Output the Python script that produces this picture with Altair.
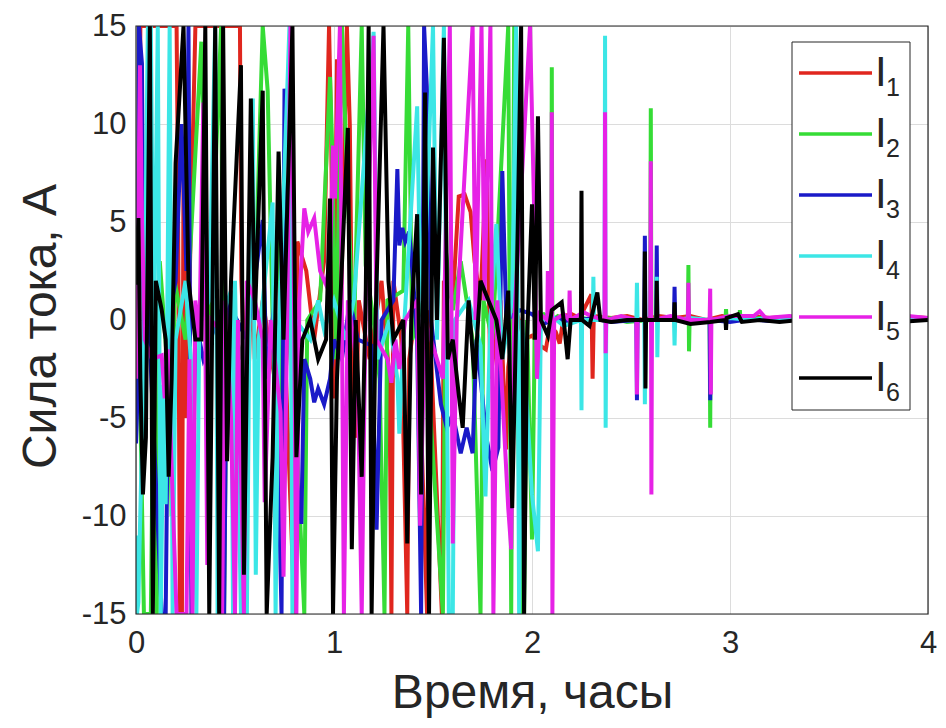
import altair as alt
import pandas as pd

NAMES = ["I1", "I2", "I3", "I4", "I5", "I6"]
SUBS = ["1", "2", "3", "4", "5", "6"]
COLORS = ["#e0261e", "#36dc36", "#1a1ac8", "#3ce6e6", "#e622e6", "#000000"]
X_TICKS = [0, 1, 2, 3, 4]
Y_TICKS = [-15, -10, -5, 0, 5, 10, 15]
X_TITLE = "Время, часы"
Y_TITLE = "Сила тока, А"

# (time in hours, current in A); values at the +/-15 limit are saturated
I1 = [(0.000, 1.0), (0.012, -4.0), (0.022, 15), (0.205, 15), (0.212, 6.9), (0.222, -15), (0.232, -15),
      (0.240, 8.0), (0.255, -5.0), (0.300, 15), (0.525, 15), (0.532, 2.0), (0.545, -1.0), (0.560, -6.0),
      (0.585, 3.0), (0.600, -2.0), (0.640, 1.0), (0.700, -3.0), (0.740, 2.0), (0.800, -15), (0.815, 4.0),
      (0.860, 2.5), (0.900, -1.0), (0.950, 3.0), (0.975, 15), (0.985, 10.0), (1.000, -4.0), (1.015, 13.3),
      (1.030, -2.0), (1.065, 15), (1.080, 9.9), (1.095, -5.0), (1.110, -6.0), (1.125, 1.0), (1.180, -2.0),
      (1.240, 2.0), (1.280, -3.0), (1.290, -15), (1.300, 2.0), (1.340, -1.0), (1.370, -15), (1.380, -2.0),
      (1.420, 1.0), (1.470, -15), (1.480, 0.5), (1.545, -15), (1.555, 2.0), (1.600, 1.0), (1.630, 6.3),
      (1.660, 6.4), (1.690, 5.5), (1.710, 3.0), (1.740, 1.0), (1.770, 8.2), (1.790, -3.0), (1.840, 1.0),
      (1.870, -6.6), (1.880, -2.4), (1.920, 0.5), (1.960, -1.0), (2.000, -0.8), (2.040, -1.3), (2.070, -1.5),
      (2.090, -0.3), (2.120, -0.6), (2.140, -1.2), (2.160, 0.2), (2.200, 0.3), (2.240, 0.1), (2.300, 1.3),
      (2.306, -3.0), (2.312, 0.2), (2.400, 0.1), (2.480, 0.2), (2.560, 0.0), (2.640, 0.2), (2.720, 0.1),
      (2.800, 0.2), (2.880, 0.0), (2.960, 0.2), (3.040, 0.1), (3.120, 0.2), (3.200, 0.1), (3.280, 0.15),
      (3.360, 0.05), (3.440, 0.15), (3.520, 0.1), (3.600, 0.2), (3.680, 0.05), (3.760, 0.15), (3.840, 0.1),
      (3.920, 0.15), (4.000, 0.1)]

I2 = [(0.000, 0.0), (0.010, -2.5), (0.020, -3.5), (0.040, -15), (0.075, -15), (0.090, -1.0), (0.105, -15),
      (0.120, 3.0), (0.170, -4.0), (0.180, -10.0), (0.195, 2.0), (0.250, -1.0), (0.330, 14.2), (0.345, 8.0),
      (0.360, -3.0), (0.430, 15), (0.445, -15), (0.460, 1.0), (0.520, -2.0), (0.600, 1.0), (0.640, 15),
      (0.665, 11.7), (0.690, 0.0), (0.720, 5.5), (0.740, -5.0), (0.780, 1.0), (0.850, -15), (0.865, 0.0),
      (0.930, 1.0), (0.980, 12.4), (0.990, 9.1), (1.010, -2.0), (1.040, 15), (1.070, 6.2), (1.100, -1.0),
      (1.140, 15), (1.160, 2.8), (1.200, 0.0), (1.230, -3.0), (1.255, -15), (1.270, 1.0), (1.350, 1.5),
      (1.375, 15), (1.395, -1.0), (1.450, 1.0), (1.550, -15), (1.565, 3.5), (1.600, 0.5), (1.640, 3.0),
      (1.700, -1.0), (1.740, -15), (1.755, 1.0), (1.800, -1.0), (1.880, 15), (1.895, -15), (1.910, 15),
      (1.925, -2.0), (1.945, -15), (1.960, -15), (1.975, 0.0), (2.000, -11.2), (2.015, 0.0), (2.060, 0.3),
      (2.097, 0.0), (2.100, 12.9), (2.103, 0.0), (2.130, 0.2), (2.180, -0.1), (2.250, 0.1), (2.320, 0.0),
      (2.400, 0.1), (2.480, -0.1), (2.597, 0.0), (2.600, 10.8), (2.603, -0.5), (2.606, 0.0), (2.680, 0.1),
      (2.787, 0.0), (2.790, 2.8), (2.793, -1.6), (2.796, 0.0), (2.897, 0.0), (2.900, -5.5), (2.903, 0.0),
      (2.977, 0.0), (2.980, 0.55), (2.983, 0.0), (3.047, 0.0), (3.050, 0.5), (3.053, 0.0), (3.150, 0.1),
      (3.250, 0.0), (3.350, 0.1), (3.450, 0.0), (3.550, 0.1), (3.650, 0.0), (3.750, 0.1), (3.850, 0.0),
      (4.000, 0.1)]

I3 = [(0.000, -6.3), (0.008, -3.8), (0.015, 15), (0.030, 13.1), (0.040, -2.0), (0.060, 1.0), (0.130, -15),
      (0.150, -15), (0.165, 0.0), (0.200, 2.0), (0.230, 10.0), (0.255, 2.5), (0.265, 15), (0.280, -15),
      (0.300, 0.0), (0.340, -2.0), (0.430, 0.5), (0.445, -15), (0.460, 1.0), (0.560, -1.0), (0.640, 5.1),
      (0.660, -3.0), (0.700, 1.0), (0.735, -15), (0.750, 11.8), (0.775, 8.3), (0.790, -1.0), (0.810, -8.0),
      (0.835, -10.4), (0.850, -2.0), (0.880, -3.0), (0.900, -4.2), (0.920, -3.5), (0.950, -4.3), (0.980, -3.0),
      (1.000, -1.0), (1.040, -2.0), (1.080, 1.0), (1.120, -1.0), (1.190, -1.3), (1.215, -10.7), (1.240, 0.0),
      (1.300, 1.0), (1.320, 7.7), (1.330, 3.8), (1.345, 4.7), (1.360, 4.0), (1.380, 4.5), (1.400, 2.0),
      (1.420, -1.0), (1.440, -15), (1.455, 15), (1.470, 11.6), (1.490, 0.0), (1.540, -4.3), (1.570, -5.5),
      (1.600, -4.8), (1.640, -6.8), (1.670, -5.5), (1.700, -6.8), (1.720, -1.0), (1.770, -6.0), (1.800, -7.7),
      (1.830, -6.5), (1.850, 7.6), (1.870, 0.0), (1.940, 0.5), (2.000, 0.3), (2.060, -0.2), (2.120, 0.1),
      (2.200, -0.1), (2.300, 0.1), (2.400, -0.1), (2.527, 0.0), (2.530, -4.1), (2.533, 0.0), (2.567, 0.0),
      (2.570, 4.3), (2.573, 0.0), (2.627, 0.0), (2.630, 3.8), (2.633, 0.0), (2.717, 0.0), (2.720, 1.7),
      (2.723, 0.0), (2.800, -0.1), (2.897, 0.0), (2.900, -4.1), (2.903, 0.0), (3.000, -0.1), (3.100, 0.05),
      (3.200, -0.05), (3.300, 0.05), (3.400, -0.05), (3.500, 0.05), (3.600, -0.05), (3.700, 0.05),
      (3.800, -0.05), (3.900, 0.05), (4.000, 0.0)]

I4 = [(0.000, -11.0), (0.005, -15), (0.012, -14.4), (0.020, -10.6), (0.040, -2.0), (0.060, 15), (0.075, 15),
      (0.090, -2.0), (0.110, 15), (0.125, -15), (0.140, -3.3), (0.150, -9.4), (0.170, 15), (0.185, -15),
      (0.200, -1.0), (0.250, 2.0), (0.290, -4.0), (0.305, -15), (0.320, 0.0), (0.370, 1.0), (0.400, 15),
      (0.412, -15), (0.430, 0.0), (0.480, 1.5), (0.490, -15), (0.500, 2.0), (0.530, -15), (0.545, -1.0),
      (0.560, -15), (0.575, 2.0), (0.590, 11.3), (0.605, -13.0), (0.620, -1.0), (0.690, 6.0), (0.705, -15),
      (0.720, -1.0), (0.775, 15), (0.790, -15), (0.805, 0.0), (0.880, -1.0), (0.920, 1.0), (0.950, -0.5),
      (1.000, 1.0), (1.060, -1.0), (1.100, 1.0), (1.200, 14.7), (1.220, -2.0), (1.280, 0.0), (1.320, -3.0),
      (1.330, -5.8), (1.350, -1.0), (1.420, 10.9), (1.430, 5.0), (1.450, 0.0), (1.500, 15), (1.520, -1.0),
      (1.555, 15), (1.580, -15), (1.600, -15), (1.610, 0.0), (1.680, 1.0), (1.740, -1.3), (1.765, -9.0),
      (1.790, 0.0), (1.820, 4.9), (1.850, -2.0), (1.900, 1.0), (1.920, 15), (1.935, -15), (1.950, 0.0),
      (2.000, -8.9), (2.030, -11.8), (2.045, 0.0), (2.100, 0.2), (2.160, -0.3), (2.247, 0.0), (2.250, -4.6),
      (2.253, 0.0), (2.307, 0.0), (2.310, 2.2), (2.313, 0.0), (2.366, 0.0), (2.369, 14.5), (2.372, -5.5),
      (2.375, 0.0), (2.450, 0.1), (2.527, 0.0), (2.530, 1.9), (2.533, 0.0), (2.567, 0.0), (2.570, -4.3),
      (2.573, 0.0), (2.627, 0.0), (2.630, 2.2), (2.633, -1.9), (2.636, 0.0), (2.717, 0.0), (2.720, -1.3),
      (2.723, 0.0), (2.800, 0.1), (2.900, 0.0), (3.000, 0.1), (3.100, 0.0), (3.200, 0.1), (3.300, 0.0),
      (3.400, 0.1), (3.500, 0.0), (3.600, 0.1), (3.700, 0.0), (3.800, 0.1), (3.900, 0.0), (4.000, 0.1)]

I5 = [(0.000, -3.0), (0.008, 2.0), (0.020, 13.0), (0.030, 5.2), (0.045, -1.0), (0.080, -2.0), (0.130, -1.8),
      (0.145, -4.0), (0.160, -1.5), (0.205, -15), (0.255, -15), (0.270, -2.0), (0.285, -15), (0.300, 1.0),
      (0.320, -1.0), (0.340, 11.1), (0.360, -12.5), (0.380, 0.0), (0.420, -0.5), (0.435, -15), (0.450, 1.0),
      (0.480, -5.0), (0.500, -15), (0.515, 0.0), (0.545, -15), (0.560, 2.0), (0.600, 1.0), (0.640, -1.0),
      (0.650, -9.3), (0.680, 0.0), (0.730, -4.7), (0.745, -13.1), (0.765, 1.0), (0.780, 15), (0.795, 5.0),
      (0.810, -15), (0.825, 1.0), (0.850, 5.7), (0.870, 4.5), (0.900, 5.2), (0.930, 2.5), (0.960, 1.8),
      (0.980, 3.0), (0.995, 8.9), (1.005, 6.2), (1.030, 15), (1.050, -15), (1.070, 1.0), (1.100, -1.0),
      (1.120, -3.0), (1.140, -15), (1.160, 1.0), (1.200, 14.5), (1.215, -1.0), (1.270, -2.0), (1.290, -3.2),
      (1.310, -1.0), (1.330, -2.5), (1.360, 0.0), (1.420, 1.0), (1.435, -10.5), (1.460, 0.0), (1.550, -3.0),
      (1.585, 15), (1.600, -11.4), (1.620, 0.0), (1.700, 15), (1.715, 0.0), (1.745, 15), (1.760, 1.0),
      (1.790, 15), (1.805, -15), (1.825, 1.0), (1.880, -9.6), (1.895, -11.7), (1.910, 0.0), (1.990, 15),
      (2.010, 6.0), (2.025, -3.0), (2.040, 0.3), (2.077, 0.0), (2.080, 2.5), (2.083, 0.0), (2.097, 0.0),
      (2.100, 10.6), (2.103, -15), (2.112, 0.0), (2.160, 0.3), (2.187, 0.0), (2.190, 1.5), (2.193, 0.0),
      (2.260, 0.4), (2.300, 0.2), (2.366, 0.0), (2.369, 10.6), (2.372, -1.7), (2.375, 0.0), (2.450, 0.2),
      (2.527, 0.0), (2.530, -3.8), (2.533, 0.0), (2.597, 0.0), (2.600, 8.1), (2.603, -8.9), (2.606, 0.0),
      (2.700, 0.2), (2.787, 0.0), (2.790, 1.9), (2.793, 0.0), (2.897, 0.0), (2.900, 1.6), (2.903, -3.8),
      (2.906, 0.0), (3.000, 0.2), (3.120, 0.2), (3.150, 0.45), (3.180, 0.1), (3.300, 0.2), (3.400, 0.1),
      (3.500, 0.2), (3.600, 0.1), (3.700, 0.2), (3.800, 0.1), (3.900, 0.2), (4.000, 0.1)]

I6 = [(0.000, 1.8), (0.012, 5.2), (0.022, -3.0), (0.035, -8.9), (0.050, -6.0), (0.070, 15), (0.085, -15),
      (0.100, 2.0), (0.130, 0.5), (0.150, -1.0), (0.165, -8.0), (0.180, -3.0), (0.200, 8.0), (0.240, 15),
      (0.265, 2.0), (0.300, -1.0), (0.330, -1.0), (0.350, 15), (0.370, -15), (0.400, 15), (0.420, -15),
      (0.440, 15), (0.460, -7.2), (0.480, 2.0), (0.530, 13.0), (0.545, -13.0), (0.580, 11.3), (0.600, 0.0),
      (0.640, 11.7), (0.660, -15), (0.690, -7.0), (0.720, 8.6), (0.745, -1.0), (0.790, 15), (0.810, -7.0),
      (0.840, -1.0), (0.880, 0.0), (0.920, -2.0), (0.960, -1.0), (0.980, 6.2), (0.995, -15), (1.015, -3.0),
      (1.070, 9.8), (1.090, -11.7), (1.110, 0.0), (1.140, -8.0), (1.160, 1.0), (1.175, 15), (1.190, -15),
      (1.210, 0.0), (1.250, 15), (1.275, 2.0), (1.300, -1.0), (1.350, 0.0), (1.370, -11.4), (1.390, 0.0),
      (1.420, 5.4), (1.440, -8.9), (1.460, 11.6), (1.480, -15), (1.500, 8.8), (1.520, 0.0), (1.555, 14.4),
      (1.575, -2.0), (1.600, -1.0), (1.630, -3.8), (1.650, -5.5), (1.680, 1.0), (1.710, -3.0), (1.740, 2.0),
      (1.780, 1.0), (1.820, 0.0), (1.850, -2.0), (1.880, 1.5), (1.900, -9.6), (1.920, 0.0), (1.945, 15),
      (1.960, -15), (1.975, -1.0), (2.000, 5.9), (2.015, -1.0), (2.030, 10.4), (2.045, 0.0), (2.080, -0.8),
      (2.100, 0.5), (2.150, 0.9), (2.165, -0.5), (2.180, -2.0), (2.195, 0.0), (2.247, 0.0), (2.250, 6.6),
      (2.253, 0.0), (2.290, -0.3), (2.330, 1.4), (2.345, 0.0), (2.400, -0.1), (2.480, 0.0), (2.567, 0.0),
      (2.570, 3.5), (2.573, -3.5), (2.576, 0.0), (2.627, 0.0), (2.630, 2.0), (2.633, 0.0), (2.717, 0.0),
      (2.720, 0.9), (2.723, 0.0), (2.800, -0.2), (2.900, -0.1), (2.977, 0.0), (2.980, -0.5), (2.983, 0.1),
      (3.040, 0.3), (3.060, -0.1), (3.150, 0.0), (3.250, -0.1), (3.350, 0.0), (3.450, -0.1), (3.550, 0.0),
      (3.650, -0.1), (3.750, 0.0), (3.850, -0.1), (4.000, 0.0)]

SERIES = [I1, I2, I3, I4, I5, I6]

rows = []
for name, pts in zip(NAMES, SERIES):
    for k, (t, v) in enumerate(pts):
        rows.append({"s": name, "t": t, "v": v, "k": k})
df = pd.DataFrame(rows)

W, H = 792, 588
FONT = "Liberation Sans"
INK = "#262626"

color = alt.Color("s:N", scale=alt.Scale(domain=NAMES, range=COLORS), legend=None)

x_enc = alt.X("t:Q", scale=alt.Scale(domain=[0, 4], nice=False),
              axis=alt.Axis(values=X_TICKS, labelExpr="'' + datum.value", labelFlush=False,
                            labelOverlap=False, labelPadding=14, title=X_TITLE,
                            titleBaseline="alphabetic", titleY=93))
y_enc = alt.Y("v:Q", scale=alt.Scale(domain=[-15, 15], nice=False),
              axis=alt.Axis(values=Y_TICKS, labelExpr="'' + datum.value", labelFlush=False,
                            labelOverlap=False, labelPadding=10, title=Y_TITLE, titleAngle=270,
                            titleBaseline="alphabetic", titleX=-81, titleY=300))

base = alt.Chart(df).mark_line(strokeWidth=4, clip=True, strokeCap="butt").encode(
    x=x_enc, y=y_enc, color=color, order="k:Q")
lines = [base.transform_filter(alt.datum.s == n) for n in NAMES]

one = pd.DataFrame({"a": [0]})
box = alt.Chart(one).mark_rect(fill="white", stroke=INK, strokeWidth=1).encode(
    x=alt.value(656), x2=alt.value(774), y=alt.value(16), y2=alt.value(384))

leg_df = pd.DataFrame({"s": NAMES, "sub": SUBS, "i": list(range(len(NAMES)))})
leg = alt.Chart(leg_df).transform_calculate(
    ly="47 + 61 * datum.i", ty="47 + 61 * datum.i + 13", sy="47 + 61 * datum.i + 23")
leg_lines = leg.mark_rule(strokeWidth=3.5).encode(
    x=alt.value(663), x2=alt.value(736), y=alt.Y("ly:Q", scale=None, axis=None), color=color)
leg_i = leg.mark_text(text="I", font=FONT, fontSize=42, align="left", baseline="alphabetic",
                      color=INK).encode(x=alt.value(739), y=alt.Y("ty:Q", scale=None, axis=None))
leg_sub = leg.mark_text(font=FONT, fontSize=25, align="left", baseline="alphabetic",
                        color=INK).encode(x=alt.value(750), y=alt.Y("sy:Q", scale=None, axis=None),
                                          text="sub:N")

frame = alt.Chart(one).mark_rect(fill="transparent", stroke=INK, strokeWidth=1.2).encode(
    x=alt.value(0), x2=alt.value(W), y=alt.value(0), y2=alt.value(H))

chart = alt.layer(*lines, box, leg_lines, leg_i, leg_sub, frame).properties(
    width=W, height=H,
    autosize=alt.AutoSizeParams(type="none"),
    padding={"left": 128, "top": 18, "right": 10, "bottom": 106},
    background="white",
).configure_view(stroke=None).configure_axis(
    labelFont=FONT, labelFontSize=31, labelColor=INK,
    titleFont=FONT, titleFontSize=48, titleFontWeight="normal", titleColor=INK,
    ticks=False, domain=False, grid=True, gridColor="#dcdcdc", gridWidth=1,
)

chart.save("out.html", embed_options={"renderer": "svg", "actions": False})
